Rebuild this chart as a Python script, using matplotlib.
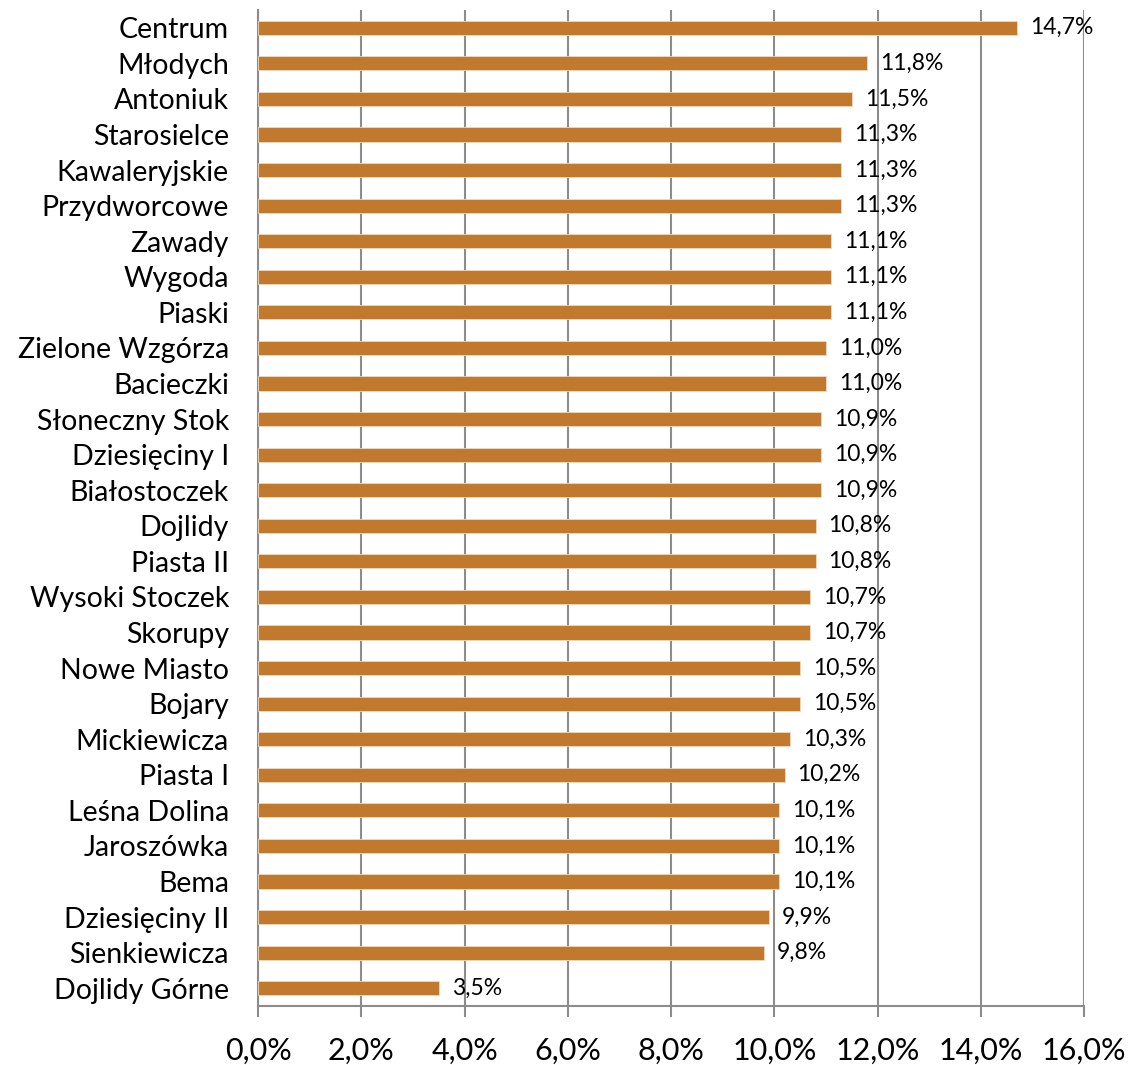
import matplotlib.pyplot as plt
from matplotlib.ticker import FuncFormatter

# Districts (top to bottom) and their shares in %
districts = ['Centrum', 'Młodych', 'Antoniuk', 'Starosielce', 'Kawaleryjskie',
             'Przydworcowe', 'Zawady', 'Wygoda', 'Piaski', 'Zielone Wzgórza',
             'Bacieczki', 'Słoneczny Stok', 'Dziesięciny I', 'Białostoczek',
             'Dojlidy', 'Piasta II', 'Wysoki Stoczek', 'Skorupy', 'Nowe Miasto',
             'Bojary', 'Mickiewicza', 'Piasta I', 'Leśna Dolina', 'Jaroszówka',
             'Bema', 'Dziesięciny II', 'Sienkiewicza', 'Dojlidy Górne']
shares = [14.7, 11.8, 11.5, 11.3, 11.3, 11.3, 11.1, 11.1, 11.1, 11.0,
          11.0, 10.9, 10.9, 10.9, 10.8, 10.8, 10.7, 10.7, 10.5, 10.5,
          10.3, 10.2, 10.1, 10.1, 10.1, 9.9, 9.8, 3.5]
x_ticks = [0, 2, 4, 6, 8, 10, 12, 14, 16]

plt.rcParams['font.family'] = ['Lato', 'DejaVu Sans']

fig = plt.figure(figsize=(11.32, 10.65), dpi=100)
ax = fig.add_axes([0.228, 0.0554, 0.7296, 0.9352])

bar_color = '#C1792D'
grid_color = '#8C8C8C'

pos = list(range(len(districts)))
ax.barh(pos, shares, height=0.4, color=bar_color, edgecolor='#F0D9C0',
        linewidth=0.6, zorder=3)

for y, v in zip(pos, shares):
    ax.text(v + 0.25, y, f'{v:.1f}%'.replace('.', ','), va='center',
            ha='left', fontsize=16.5, color='black', zorder=4)

ax.set_ylim(len(districts) - 0.5, -0.5)
ax.set_xlim(0, 16)
ax.set_yticks(pos)
ax.set_yticklabels(districts, fontsize=20.5)
ax.set_xticks(x_ticks)
ax.xaxis.set_major_formatter(FuncFormatter(lambda v, _: f'{v:.1f}%'.replace('.', ',')))

ax.tick_params(axis='y', length=0, pad=21)
ax.tick_params(axis='x', labelsize=22, length=8, width=1.5, color=grid_color,
               pad=14, direction='out')

ax.grid(axis='x', color=grid_color, linewidth=1.5, zorder=0)
ax.set_axisbelow(True)
for side in ['top', 'right']:
    ax.spines[side].set_visible(False)
for side in ['left', 'bottom']:
    ax.spines[side].set_color(grid_color)
    ax.spines[side].set_linewidth(1.5)

fig.savefig('out.png', dpi=100)
